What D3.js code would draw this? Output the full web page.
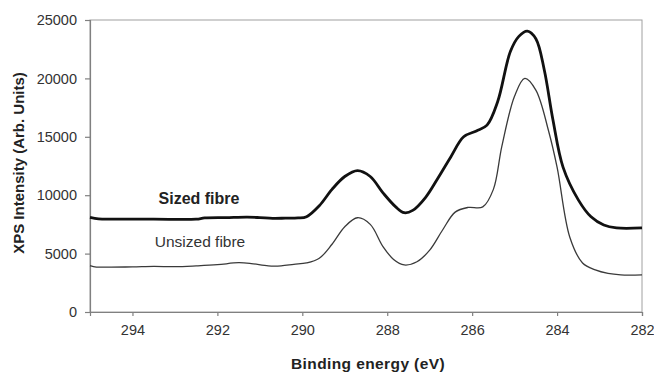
<!DOCTYPE html>
<html>
<head>
<meta charset="utf-8">
<script src="https://cdn.jsdelivr.net/npm/d3@7/dist/d3.min.js"></script>
<style>
  html, body { margin: 0; padding: 0; background: #fff; }
  svg { display: block; font-family: "Liberation Sans", Arial, sans-serif; }
</style>
</head>
<body>
<svg id="chart" width="654" height="372"></svg>
<script>
// Binding energy (eV) and XPS intensity for the two C 1s spectra
const sizedEnergy = [295.0, 294.8, 294.5, 293.5, 292.5, 292.3, 291.8, 291.3, 291.0, 290.7, 290.4, 290.1,
  289.9, 289.6, 289.3, 289.0, 288.7, 288.4, 288.1, 287.8, 287.6, 287.4, 287.1, 286.8, 286.5, 286.2,
  285.9, 285.65, 285.4, 285.1, 284.9, 284.7, 284.5, 284.3, 284.1, 283.86, 283.5, 283.2, 282.9, 282.6, 282.0];
const sizedIntensity = [8100, 7980, 7950, 7950, 7950, 8050, 8080, 8120, 8080, 8020, 8030, 8050,
  8160, 9100, 10500, 11600, 12100, 11600, 10200, 9000, 8500, 8700, 9800, 11500, 13300, 15000,
  15500, 16000, 18000, 22300, 23600, 24050, 23400, 20700, 16500, 12400, 9600, 8150, 7450, 7200, 7200];

const unsizedEnergy = [295.0, 294.85, 294.5, 294.0, 293.5, 293.0, 292.5, 292.0, 291.5, 291.2, 290.8, 290.5,
  290.2, 289.9, 289.6, 289.3, 289.0, 288.7, 288.4, 288.1, 287.85, 287.6, 287.3, 287.0, 286.7, 286.4,
  286.1, 285.75, 285.5, 285.3, 285.0, 284.76, 284.5, 284.2, 284.0, 283.7, 283.4, 283.1, 282.8, 282.5, 282.0];
const unsizedIntensity = [3980, 3850, 3850, 3860, 3900, 3880, 3950, 4050, 4220, 4150, 3950, 3950,
  4080, 4200, 4600, 5800, 7300, 8070, 7500, 5600, 4500, 4030, 4300, 5300, 7000, 8550,
  8950, 9000, 10500, 14200, 18500, 20000, 19000, 15500, 12400, 6400, 4200, 3600, 3300, 3180, 3180];

const xTicks = [294, 292, 290, 288, 286, 284, 282];
const yTicks = [0, 5000, 10000, 15000, 20000, 25000];

const svg = d3.select("#chart");
const m = { left: 90, right: 12, top: 20, bottom: 60 };
const W = 654, H = 372;

const x = d3.scaleLinear().domain([295, 282]).range([m.left, W - m.right]);
const y = d3.scaleLinear().domain([0, 25000]).range([H - m.bottom, m.top]);

// plot area border
svg.append("rect")
  .attr("x", x(295)).attr("y", y(25000))
  .attr("width", x(282) - x(295)).attr("height", y(0) - y(25000))
  .attr("fill", "none").attr("stroke", "#a0a0a0").attr("stroke-width", 1);

// axes
const xAxis = svg.append("g")
  .attr("transform", `translate(0,${y(0)})`)
  .call(d3.axisBottom(x).tickValues(xTicks).tickSize(4).tickPadding(9).tickFormat(d3.format("d")));
const yAxis = svg.append("g")
  .attr("transform", `translate(${x(295)},0)`)
  .call(d3.axisLeft(y).tickValues(yTicks).tickSize(5).tickPadding(8).tickFormat(d3.format("d")));

[xAxis, yAxis].forEach(g => {
  g.select(".domain").attr("stroke", "#808080").attr("stroke-width", 1.2);
  g.selectAll(".tick line").attr("stroke", "#808080").attr("stroke-width", 1.2);
  g.selectAll(".tick text").attr("fill", "#333").attr("font-size", 14.5)
    .attr("font-family", "'Liberation Sans', Arial, sans-serif");
});

// spectra
const line = d3.line().x(d => x(d[0])).y(d => y(d[1])).curve(d3.curveCatmullRom.alpha(0.5));

svg.append("path")
  .datum(d3.zip(unsizedEnergy, unsizedIntensity))
  .attr("d", line).attr("fill", "none").attr("stroke", "#3a3a3a").attr("stroke-width", 1.3);

svg.append("path")
  .datum(d3.zip(sizedEnergy, sizedIntensity))
  .attr("d", line).attr("fill", "none").attr("stroke", "#111").attr("stroke-width", 2.8)
  .attr("stroke-linejoin", "round");

// series labels
svg.append("text").attr("x", 199).attr("y", 204).attr("text-anchor", "middle")
  .attr("font-size", 16).attr("font-weight", "bold").attr("fill", "#222").text("Sized fibre");
svg.append("text").attr("x", 200).attr("y", 247).attr("text-anchor", "middle")
  .attr("font-size", 15.5).attr("fill", "#333").text("Unsized fibre");

// axis titles
svg.append("text").attr("x", 368).attr("y", 369).attr("text-anchor", "middle")
  .attr("font-size", 15.5).attr("font-weight", "bold").attr("letter-spacing", 0.4)
  .attr("fill", "#222").text("Binding energy (eV)");
svg.append("text").attr("transform", "translate(24,163) rotate(-90)").attr("text-anchor", "middle")
  .attr("font-size", 15).attr("font-weight", "bold").attr("fill", "#222").text("XPS Intensity (Arb. Units)");
</script>
</body>
</html>
